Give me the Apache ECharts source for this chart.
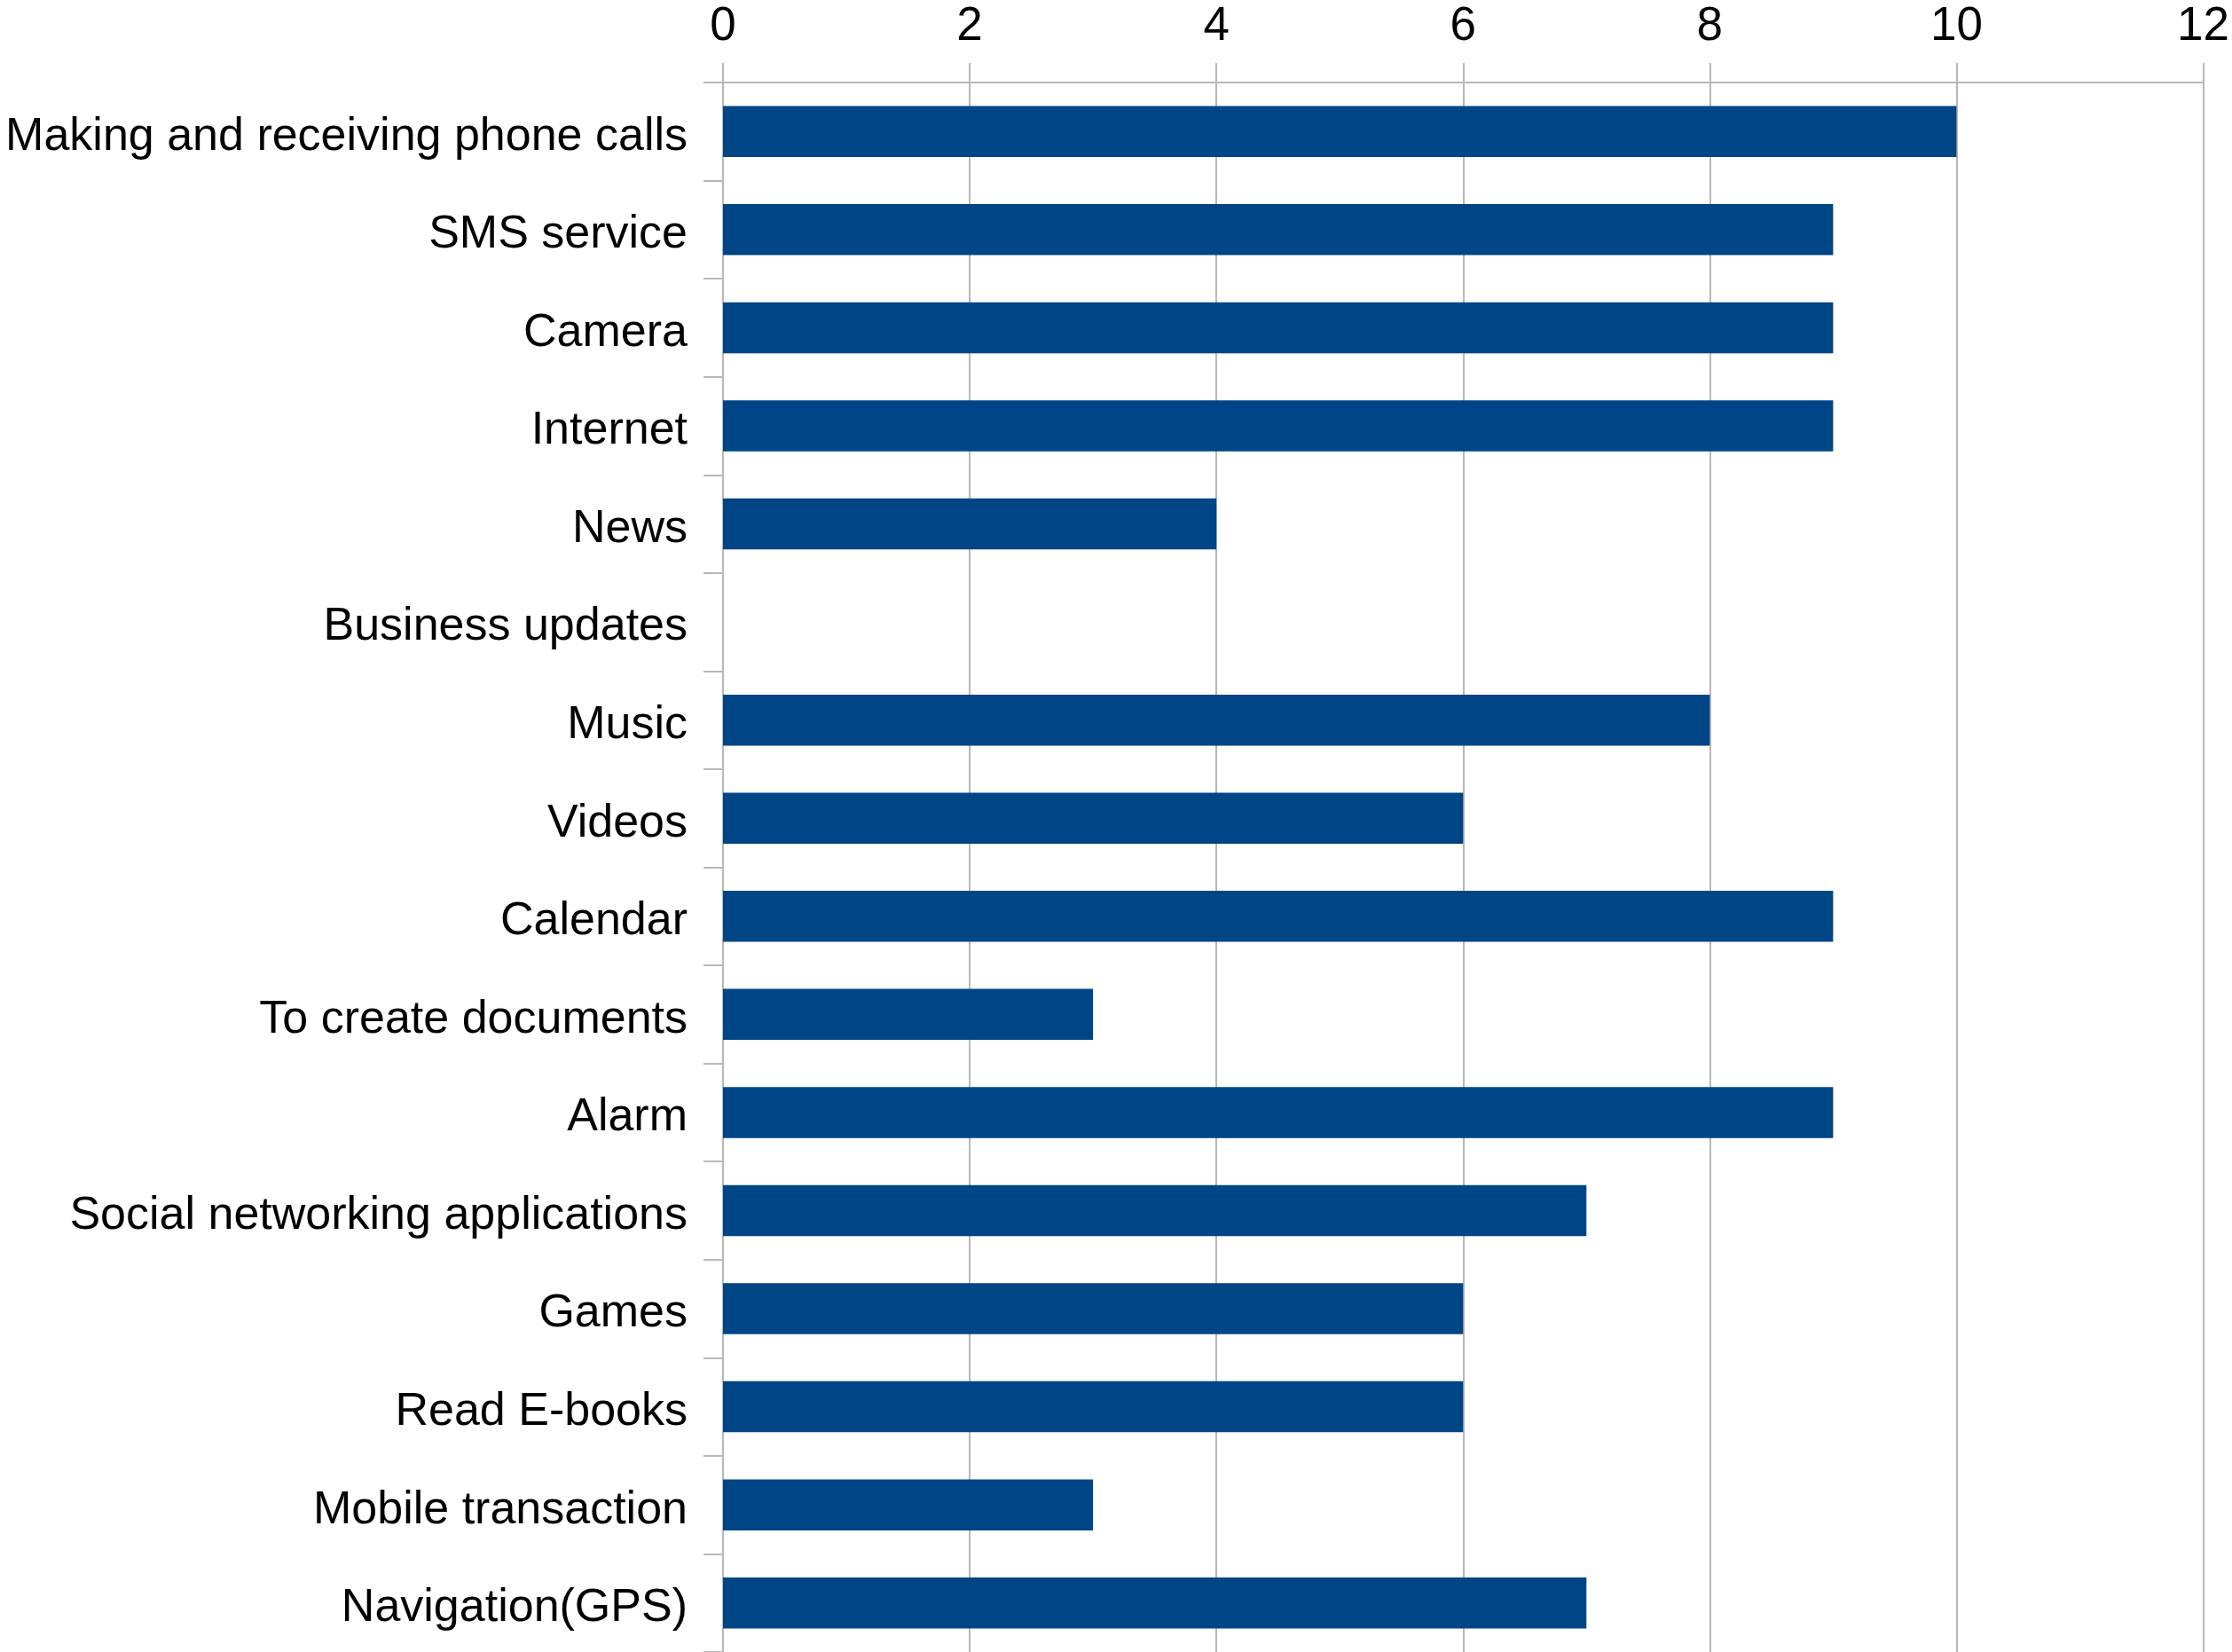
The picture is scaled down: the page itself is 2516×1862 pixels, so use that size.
<!DOCTYPE html>
<html>
<head>
<meta charset="utf-8">
<style>
  html, body { margin: 0; padding: 0; background: #ffffff; }
  #chart { width: 2516px; height: 1862px; }
</style>
<script src="https://cdn.jsdelivr.net/npm/echarts@6/dist/echarts.min.js"></script>
</head>
<body>
<div id="chart"></div>
<script>
// Mobile phone features and how many respondents use each one
const categories = [
  'Making and receiving phone calls',
  'SMS service',
  'Camera',
  'Internet',
  'News',
  'Business updates',
  'Music',
  'Videos',
  'Calendar',
  'To create documents',
  'Alarm',
  'Social networking applications',
  'Games',
  'Read E-books',
  'Mobile transaction',
  'Navigation(GPS)'
];
const counts = [10, 9, 9, 9, 4, 0, 8, 6, 9, 3, 9, 7, 6, 6, 3, 7];
const axisMin = 0;
const axisMax = 12;
const axisStep = 2;

const gridGray = '#b8b8b8';
const font = '"Liberation Sans", Arial, sans-serif';

const chart = echarts.init(document.getElementById('chart'));
chart.setOption({
  animation: false,
  backgroundColor: '#ffffff',
  grid: { left: 815, right: 27, top: 93, bottom: 0, containLabel: false },
  xAxis: {
    type: 'value',
    position: 'top',
    min: axisMin,
    max: axisMax,
    interval: axisStep,
    axisLine: { show: true, lineStyle: { color: gridGray, width: 2 } },
    axisTick: { show: true, length: 22, lineStyle: { color: gridGray, width: 2 } },
    splitLine: { show: true, lineStyle: { color: gridGray, width: 2 } },
    axisLabel: { color: '#000000', fontSize: 53, fontFamily: font, margin: 36 }
  },
  yAxis: {
    type: 'category',
    data: categories,
    inverse: true,
    axisLine: { show: true, lineStyle: { color: gridGray, width: 2 } },
    axisTick: { show: true, length: 22, alignWithLabel: false, lineStyle: { color: gridGray, width: 2 } },
    splitLine: { show: false },
    axisLabel: {
      color: '#000000', fontSize: 52, fontFamily: font, margin: 40,
      verticalAlign: 'top', lineHeight: 12
    }
  },
  series: [{
    type: 'bar',
    data: counts,
    barWidth: '52%',
    itemStyle: { color: '#004586' }
  }]
});
</script>
</body>
</html>
